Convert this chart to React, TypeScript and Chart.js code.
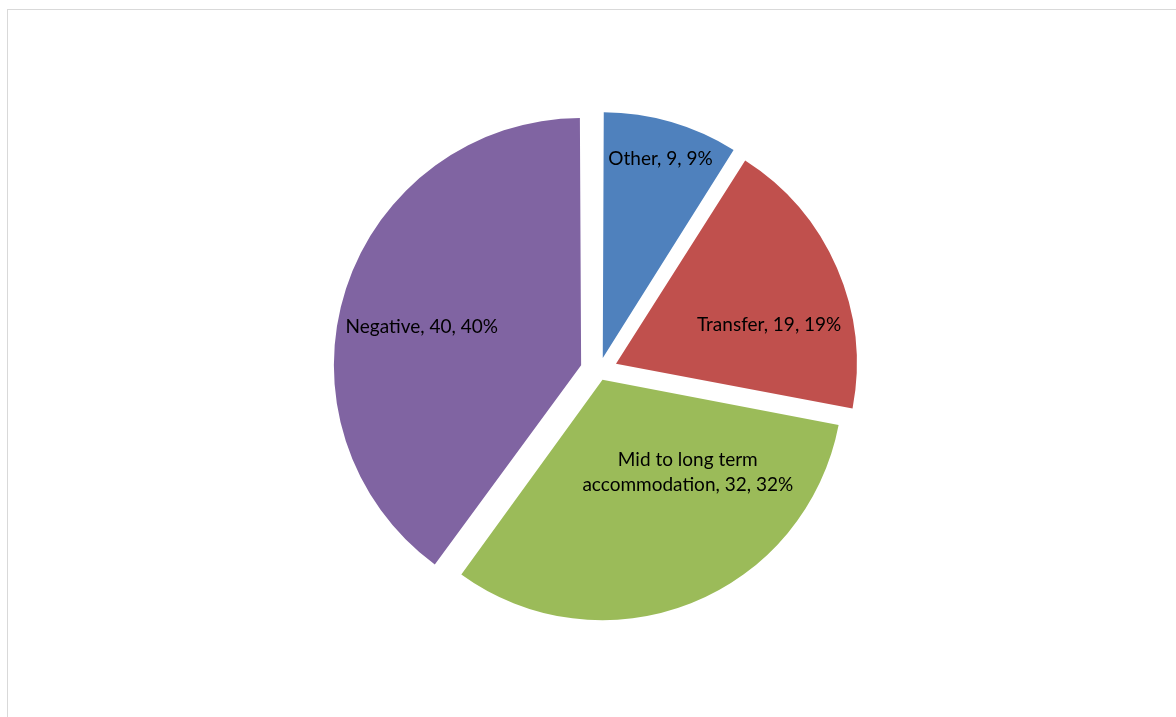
import React, { useEffect, useRef } from "react";
import { Chart, registerables } from "chart.js";

Chart.register(...registerables);

const categories = ["Other", "Transfer", "Mid to long term accommodation", "Negative"];
const values = [9, 19, 32, 40];
const percents = ["9%", "19%", "32%", "40%"];
const labelLines = [
  ["Other, 9, 9%"],
  ["Transfer, 19, 19%"],
  ["Mid to long term", "accommodation, 32, 32%"],
  ["Negative, 40, 40%"],
];

const colors = ["#4F81BD", "#C0504D", "#9BBB59", "#8064A2"];

// label anchor relative to each slice apex: [angle delta (deg), distance px]
const labelAnchors = [
  [0.0, 207],
  [9.2, 158],
  [-21.0, 126],
  [-4.4, 164],
];

const labelPlugin = {
  id: "sliceLabels",
  afterDatasetsDraw(chart: any) {
    const ctx = chart.ctx;
    const meta = chart.getDatasetMeta(0);
    ctx.save();
    ctx.font = "19px Lato";
    ctx.fillStyle = "#000000";
    ctx.textAlign = "center";
    ctx.textBaseline = "middle";
    meta.data.forEach((arc: any, i: number) => {
      const { x, y, startAngle, endAngle } = arc.getProps(
        ["x", "y", "startAngle", "endAngle"],
        true
      );
      const t = (arc.options.offset || 0) / 4;
      const half = (startAngle + endAngle) / 2;
      const ax = x + Math.cos(half) * t;
      const ay = y + Math.sin(half) * t;
      const [dDeg, dist] = labelAnchors[i];
      const a = half + (dDeg * Math.PI) / 180;
      const lx = ax + Math.cos(a) * dist;
      const ly = ay + Math.sin(a) * dist;
      const lines = labelLines[i];
      const lh = 25;
      lines.forEach((line, j) => {
        ctx.fillText(line, lx, ly + (j - (lines.length - 1) / 2) * lh);
      });
    });
    ctx.restore();
  },
};

export default function App() {
  const canvasRef = useRef<HTMLCanvasElement>(null);

  useEffect(() => {
    if (!canvasRef.current) return;
    const chart = new Chart(canvasRef.current, {
      type: "pie",
      data: {
        labels: categories,
        datasets: [
          {
            data: values,
            backgroundColor: colors,
            borderWidth: 0,
            offset: [54, 74, 38, 75.2],
            hoverOffset: 0,
          } as any,
        ],
      },
      options: {
        responsive: true,
        maintainAspectRatio: false,
        animation: false,
        events: [],
        radius: 239.5,
        layout: { padding: { left: 22, top: 25, right: 0, bottom: 0 } },
        plugins: {
          legend: { display: false },
          tooltip: { enabled: false },
        },
      } as any,
      plugins: [labelPlugin],
    });
    return () => chart.destroy();
  }, []);

  return (
    <div
      style={{
        position: "fixed",
        left: 0,
        top: 0,
        width: 1176,
        height: 717,
        overflow: "hidden",
        background: "#ffffff",
      }}
    >
      <div
        style={{
          position: "absolute",
          left: 7,
          top: 9,
          width: 1300,
          height: 900,
          borderTop: "1px solid #d9d9d9",
          borderLeft: "1px solid #d9d9d9",
        }}
      />
      <div style={{ position: "absolute", left: 0, top: 0, width: 1176, height: 717 }}>
        <canvas ref={canvasRef} />
      </div>
    </div>
  );
}
